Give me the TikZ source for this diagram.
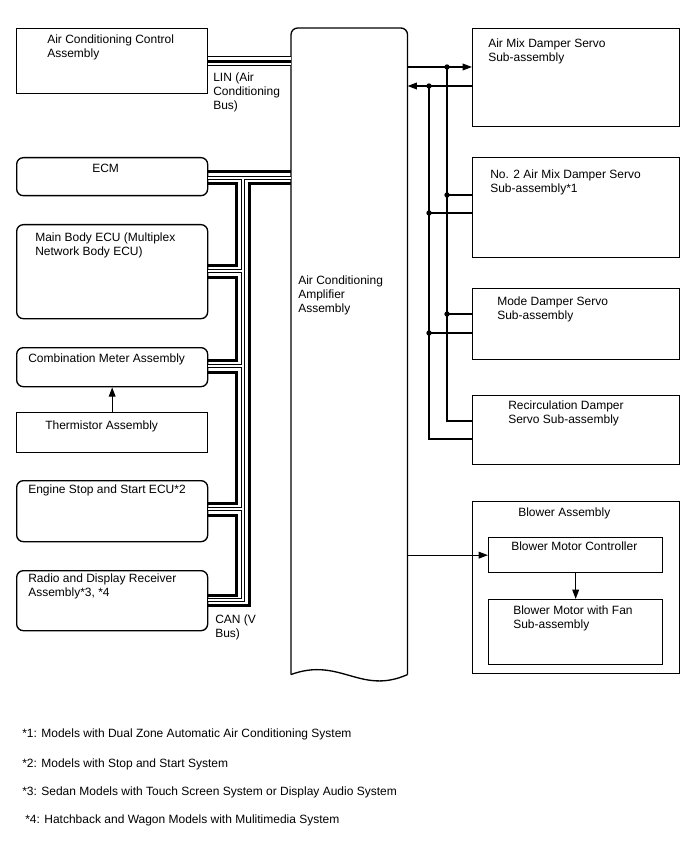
\documentclass[tikz,border=0pt]{standalone}
\usepackage{fontspec}
\setmainfont{Liberation Sans}
\usepackage{tikz}
\usetikzlibrary{arrows.meta}
\newcommand\pxu{0.75pt}

\begin{document}
\begin{tikzpicture}[x=0.75pt, y=-0.75pt,
        unitbox/.style 2 args={draw, line width=1pt, anchor=north west, inner sep=0pt, minimum width=#1*\pxu, minimum height=#2*\pxu},
        ecu/.style 2 args={unitbox={#1}{#2}, rounded corners=5pt},
        lbl/.style={anchor=north west, inner sep=0pt, align=left, font=\fontsize{9}{10.5}\selectfont},
        wire/.style={line width=1pt},
        arrow/.style={wire, -{Triangle[length=7pt, width=5pt]}},
        canblk/.style={line width=2.25pt, line join=miter},
        canhol/.style={line width=0.75pt, double=white, double distance=1.75pt, line join=miter},
        jdot/.style={circle, fill, inner sep=0pt, minimum size=4pt}
    ]
        \useasboundingbox (0,0) rectangle (688,852);

        % Left units
        \node[unitbox={191}{65}] (acca) at (16,28) {};
        \node[lbl] (accat) at (47,35) {Air Conditioning Control\\Assembly};
        \node[ecu={191}{38}] (ecm) at (16,157) {};
        \node[lbl] (ecmt) at (92,164) {ECM};
        \node[ecu={191}{94}] (mbecu) at (16,224) {};
        \node[lbl] (mbecut) at (35,233) {Main Body ECU (Multiplex\\Network Body ECU)};
        \node[ecu={191}{39}] (meter) at (16,347) {};
        \node[lbl] (metert) at (28,354) {Combination Meter Assembly};
        \node[unitbox={191}{40}] (therm) at (16,412) {};
        \node[lbl] (thermt) at (45,421) {Thermistor Assembly};
        \node[ecu={191}{61}] (eng) at (16,480) {};
        \node[lbl] (engt) at (28,485) {Engine Stop and Start ECU*2};
        \node[ecu={191}{60}] (radio) at (16,570) {};
        \node[lbl] (radiot) at (28,574) {Radio and Display Receiver\\Assembly*3, *4};

        % Amplifier
        \node[anchor=north west, inner sep=0pt, minimum width=116*\pxu, minimum height=646*\pxu] (amp) at (291,28) {};
        \draw[wire, rounded corners=5pt] (amp.south west) -- (amp.north west) -- (amp.north east) -- (amp.south east);
        \draw[wire] (amp.south west) .. controls +(49,-18) and +(-47,21) .. (amp.south east);
        \node[lbl] (ampt) at (298,276) {Air Conditioning\\Amplifier\\Assembly};

        % Right units
        \node[unitbox={207}{98}] (amix) at (472,28) {};
        \node[lbl] (amixt) at (488,39) {Air Mix Damper Servo\\Sub-assembly};
        \node[unitbox={207}{100}] (amix2) at (472,157) {};
        \node[lbl] (amix2t) at (490,170) {No. 2 Air Mix Damper Servo\\Sub-assembly*1};
        \node[unitbox={207}{71}] (mode) at (472,288) {};
        \node[lbl] (modet) at (497,297) {Mode Damper Servo\\Sub-assembly};
        \node[unitbox={207}{69}] (recirc) at (472,395) {};
        \node[lbl] (recirct) at (508,401) {Recirculation Damper\\Servo Sub-assembly};
        \node[unitbox={207}{172}] (blower) at (472,501) {};
        \node[lbl] (blowert) at (518,508) {Blower Assembly};
        \node[unitbox={174}{35}] (bmc) at (488,537) {};
        \node[lbl] (bmct) at (511,542) {Blower Motor Controller};
        \node[unitbox={174}{65}] (fan) at (488,599) {};
        \node[lbl] (fant) at (513,606) {Blower Motor with Fan\\Sub-assembly};

        % LIN bus
        \draw[line width=0.75pt, double=white, double distance=5.5pt] (acca.east) -- (acca.east -| amp.west);
        \draw[canblk] (acca.east) -- (acca.east -| amp.west);
        \node[lbl] (lint) at (213,73) {LIN (Air\\Conditioning\\Bus)};

        % CAN bus
        \coordinate (cl) at (236,0);
        \coordinate (ch) at (243,0);
        \coordinate (cr) at (249,0);
        \draw[canblk] (ecm.east |- 0,172) -- (amp.west |- 0,172);
        \draw[canblk] (ecm.east |- 0,184) -| (cl |- 0,265) -- (mbecu.east |- 0,265);
        \draw[canblk] (mbecu.east |- 0,277) -| (cl |- 0,360) -- (meter.east |- 0,360);
        \draw[canblk] (meter.east |- 0,372) -| (cl |- 0,503) -- (eng.east |- 0,503);
        \draw[canblk] (eng.east |- 0,515) -| (cl |- 0,595) -- (radio.east |- 0,595);
        \draw[canblk] (radio.east |- 0,605) -| (cr |- 0,184) -- (amp.west |- 0,184);
        \draw[canhol] (ecm.east |- 0,178) -- (amp.west |- 0,178)
            (ch |- 0,178) -- (ch |- 0,600) -- (radio.east |- 0,600)
            (mbecu.east |- 0,271) -- (ch |- 0,271)
            (meter.east |- 0,366) -- (ch |- 0,366)
            (eng.east |- 0,509) -- (ch |- 0,509);
        \node[lbl] (cant) at (215,615) {CAN (V\\Bus)};

        % Servo lines
        \coordinate (ba) at (447,0);
        \coordinate (bb) at (429,0);
        \draw[arrow] (amp.east |- 0,67) -- (amix.west |- 0,67);
        \draw[arrow] (amix.west |- 0,86) -- (amp.east |- 0,86);
        \draw[wire] (ba |- 0,67) -- (ba |- 0,421) -- (recirc.west |- 0,421);
        \draw[wire] (bb |- 0,86) -- (bb |- 0,439) -- (recirc.west |- 0,439);
        \draw[wire] (ba |- 0,195) -- (amix2.west |- 0,195);
        \draw[wire] (bb |- 0,213) -- (amix2.west |- 0,213);
        \draw[wire] (ba |- 0,314) -- (mode.west |- 0,314);
        \draw[wire] (bb |- 0,333) -- (mode.west |- 0,333);
        \foreach \y in {67,195,314} \node[jdot] (da\y) at (ba |- 0,\y) {};
        \foreach \y in {86,213,333} \node[jdot] (db\y) at (bb |- 0,\y) {};

        % Other arrows
        \draw[arrow] (therm.north) -- (meter.south);
        \draw[arrow] (amp.east |- bmc.west) -- (bmc.west);
        \draw[arrow] (bmc.south) -- (fan.north);

        % Notes
        \node[lbl] (n1) at (22,729) {*1: Models with Dual Zone Automatic Air Conditioning System};
        \node[lbl] (n2) at (22,759) {*2: Models with Stop and Start System};
        \node[lbl] (n3) at (22,787) {*3: Sedan Models with Touch Screen System or Display Audio System};
        \node[lbl] (n4) at (25,815) {*4: Hatchback and Wagon Models with Mulitimedia System};
    \end{tikzpicture}
\end{document}
